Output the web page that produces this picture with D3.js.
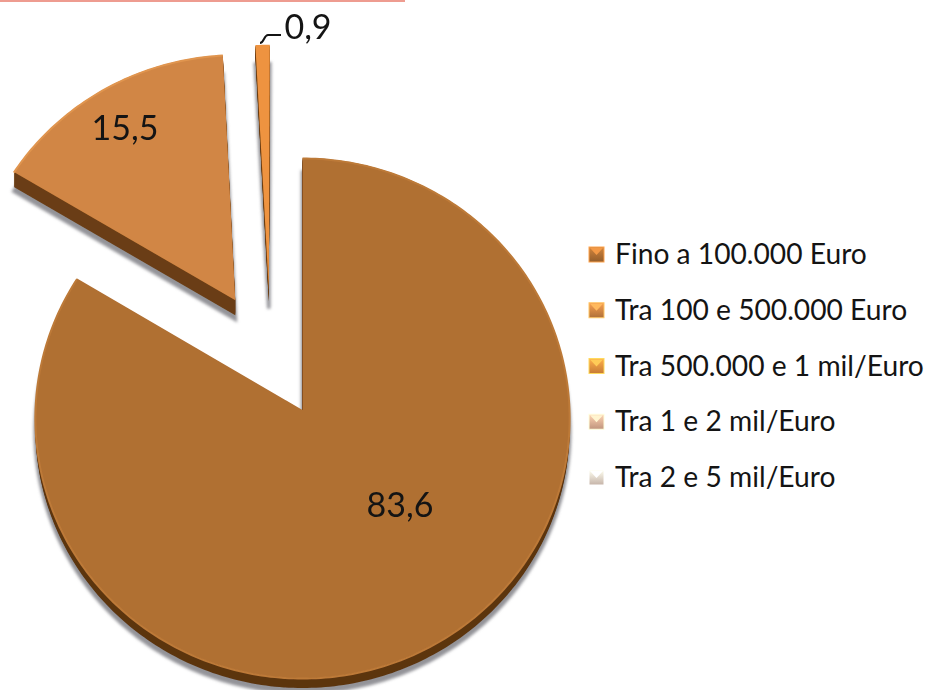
<!DOCTYPE html>
<html><head><meta charset="utf-8">
<script src="https://cdn.jsdelivr.net/npm/d3@7"></script>
<style>html,body{margin:0;padding:0;background:#fff}svg{display:block}text{font-family:Lato,"Open Sans",sans-serif;fill:#141414}</style>
</head><body><svg id="c" width="931" height="690"></svg>
<script>
const categories = ["Fino a 100.000 Euro","Tra 100 e 500.000 Euro","Tra 500.000 e 1 mil/Euro","Tra 1 e 2 mil/Euro","Tra 2 e 5 mil/Euro"];
const values = [83.6,15.5,0.9,0,0];
const valueLabels = ["83,6","15,5","0,9"];
const topColors = ["#b06f33","#d18644","#ee933f","#e6b196","#ecd6c9"];
const wallColors = ["#5c3410","#6a3d14","#6a3d14"];
const rimColors = ["#bd7a38","#e0954f","#f4a050"];

const W=931,H=690;
const svg=d3.select("#c");
const defs=svg.append("defs");
defs.append("filter").attr("id","shadow").attr("x","-20%").attr("y","-20%").attr("width","140%").attr("height","140%")
  .append("feGaussianBlur").attr("stdDeviation",1.6);
defs.append("filter").attr("id","soft").attr("x","-5%").attr("y","-5%").attr("width","110%").attr("height","110%")
  .append("feGaussianBlur").attr("stdDeviation",0.5);

// tilted-disc projection of the unit circle
const CX=302.5,CY=410,P=-0.0308;
const sx=d3.scaleLinear().domain([-1,1]).range([-267,267]);
const sy=d3.scaleLinear().domain([-1,1]).range([-259.75,259.75]);
const project=(x,y)=>{const w=1+P*y;return [CX+sx(x)/w,CY+sy(y)/w];};

const pie=d3.pie().sort(null).value(d=>d);
const arcs=pie(values).filter(a=>a.value>0);
const explodeX=[0,-0.255,-0.128], explodeY=[0,-0.428,-0.47];
const depth=[10,15,12];
const line=d3.line();

function outer(a,i){
  const n=Math.max(2,Math.ceil((a.endAngle-a.startAngle)*60));
  return d3.range(n+1).map(k=>{
    const t=a.startAngle+(a.endAngle-a.startAngle)*k/n;
    return project(explodeX[i]+Math.sin(t),explodeY[i]-Math.cos(t));
  });
}
const slicePath=(a,i)=>line([project(explodeX[i],explodeY[i]),...outer(a,i)])+"Z";

// soft grey shadows
svg.append("g").attr("filter","url(#shadow)").selectAll("path").data(arcs).join("path")
  .attr("d",slicePath).attr("transform",(d,i)=>`translate(0,${i==0?14:19})`)
  .attr("fill","#808086").attr("stroke","#808086").attr("stroke-width",3.5).attr("opacity",.85);

const marks=svg.append("g").attr("filter","url(#soft)");
arcs.forEach((a,i)=>{
  const g=marks.append("g");
  g.selectAll("path.wall").data(d3.range(1,depth[i]+1)).join("path").attr("class","wall")
    .attr("d",slicePath(a,i)).attr("transform",d=>`translate(0,${d})`)
    .attr("fill",wallColors[i]);
  g.append("path").attr("d",slicePath(a,i)).attr("fill",topColors[i]);
  g.append("path").attr("d",line(outer(a,i))).attr("fill","none")
    .attr("stroke",rimColors[i]).attr("stroke-width",i==2?0:2).attr("transform","translate(0,0.5)");
});

// value labels
const labelPos=[[400,505],[125,128],[308,27]];
svg.selectAll("text.val").data(valueLabels).join("text").attr("class","val")
  .attr("x",(d,i)=>labelPos[i][0]).attr("y",(d,i)=>labelPos[i][1]).attr("dy","0.36em")
  .attr("text-anchor","middle").attr("font-size",34).text(d=>d);

// leader line for the smallest slice
svg.append("path").attr("d",d3.line().curve(d3.curveBumpX)([[260,43],[268,35]])+"L281,35")
  .attr("fill","none").attr("stroke","#141414").attr("stroke-width",2);

// legend
const legendY=d3.scalePoint().domain(categories).range([254,477]);
categories.forEach((c,i)=>{
  const id="lg"+i, base=d3.color(topColors[i]);
  const lg=defs.append("linearGradient").attr("id",id).attr("x1",0).attr("y1",0).attr("x2",0).attr("y2",1);
  lg.append("stop").attr("offset",0).attr("stop-color",base.brighter(.5));
  lg.append("stop").attr("offset",1).attr("stop-color",base.darker(.5));
  const g=svg.append("g").attr("transform",`translate(597,${legendY(c)})`);
  g.append("rect").attr("x",-8).attr("y",-7).attr("width",15).attr("height",15)
    .attr("fill",`url(#${id})`).attr("stroke",base.brighter(1.1)).attr("stroke-width",1);
  g.append("path").attr("d",d3.line()([[-7,-6],[6,-6],[-0.5,1]])+"Z").attr("fill",base.brighter(.9));
  g.append("text").attr("x",18).attr("y",0).attr("dy","0.36em").attr("font-size",28.2).text(c);
});

// accent rule along the top edge
svg.append("rect").attr("x",0).attr("y",0).attr("width",405).attr("height",2).attr("fill","#ee9c90");
</script></body></html>
